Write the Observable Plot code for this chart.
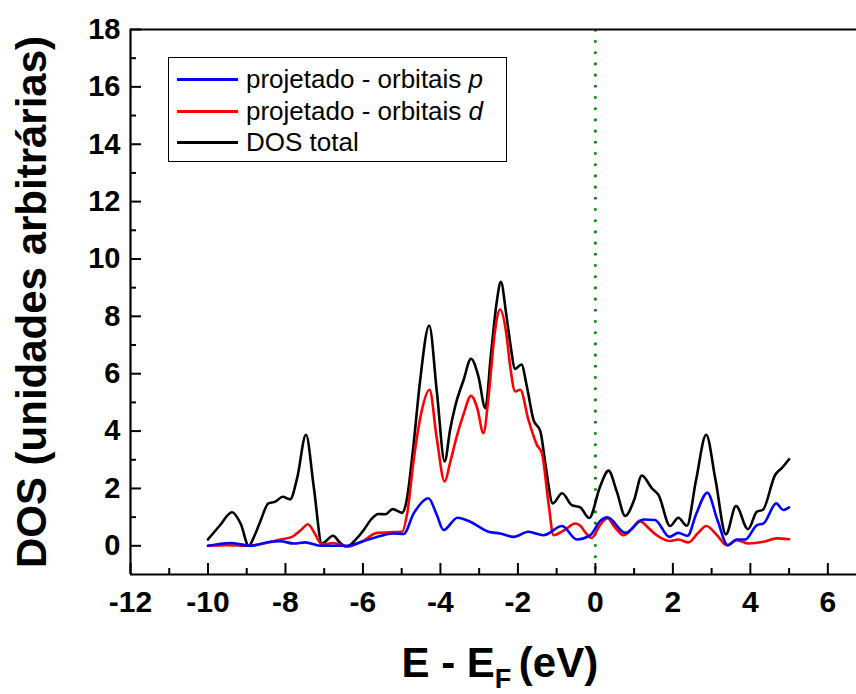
<!DOCTYPE html>
<html>
<head>
<meta charset="utf-8">
<script src="https://cdn.jsdelivr.net/npm/d3@7"></script>
<script src="https://cdn.jsdelivr.net/npm/@observablehq/plot@0.6"></script>
<style>
  html, body { margin: 0; padding: 0; background: #fff; }
  #wrap { position: relative; width: 856px; height: 694px; font-family: "Liberation Sans", Arial, sans-serif; }
  #legend { position: absolute; left: 168px; top: 57px; width: 339px; height: 105px; box-sizing: border-box;
            border: 1px solid #000; background: #fff; padding-top: 5.5px; }
  .row { height: 31.7px; display: flex; align-items: center; font-size: 26px; color: #000; white-space: nowrap; }
  .swatch { display: inline-block; width: 61px; height: 3px; margin-left: 8px; margin-right: 8px; }
</style>
</head>
<body>
<div id="wrap"></div>
<script>
// ---- data ----
const seriesNames = ["DOS total", "projetado - orbitais d", "projetado - orbitais p"];
const legendOrder = ["projetado - orbitais p", "projetado - orbitais d", "DOS total"];

const totalE = [-10, -9.7, -9.38, -9.15, -8.95, -8.8, -8.65, -8.44, -8.26, -8.07, -7.88, -7.7, -7.47, -7.27, -7.06, -6.77, -6.6, -6.41, -6.2, -5.98, -5.8, -5.6, -5.42, -5.23, -4.99, -4.87, -4.7, -4.53, -4.29, -4.09, -3.89, -3.75, -3.62, -3.4, -3.21, -3.02, -2.84, -2.7, -2.55, -2.44, -2.3, -2.2, -2.07, -1.91, -1.77, -1.6, -1.42, -1.28, -1.1, -0.86, -0.61, -0.39, -0.16, 0.12, 0.34, 0.55, 0.77, 1.0, 1.2, 1.46, 1.63, 1.93, 2.14, 2.36, 2.6, 2.86, 3.1, 3.37, 3.63, 3.94, 4.17, 4.32, 4.64, 4.81, 5.0];
const totalDOS = [0.22, 0.7, 1.17, 0.75, 0.0, 0.35, 0.85, 1.48, 1.54, 1.71, 1.62, 2.35, 3.87, 2.06, 0.08, 0.35, 0.12, -0.03, 0.2, 0.55, 0.9, 1.11, 1.1, 1.28, 1.15, 1.6, 3.45, 5.69, 7.68, 5.34, 2.94, 4.05, 4.86, 5.79, 6.52, 5.91, 4.8, 6.6, 8.47, 9.2, 8.06, 7.08, 6.17, 6.32, 5.56, 4.4, 3.99, 2.76, 1.48, 1.83, 1.42, 1.34, 0.97, 2.06, 2.62, 1.9, 1.04, 1.6, 2.45, 2.0, 1.77, 0.69, 0.98, 0.7, 2.3, 3.87, 2.3, 0.4, 1.39, 0.58, 1.19, 1.25, 2.47, 2.71, 3.02];

const dE = [-10, -9.5, -9.0, -8.5, -8.13, -7.83, -7.6, -7.42, -7.25, -7.06, -6.76, -6.41, -6.03, -5.64, -5.21, -4.99, -4.85, -4.69, -4.5, -4.28, -4.1, -3.89, -3.75, -3.58, -3.4, -3.21, -3.05, -2.89, -2.75, -2.6, -2.46, -2.3, -2.2, -2.07, -1.94, -1.73, -1.51, -1.38, -1.21, -1.08, -0.8, -0.52, -0.39, -0.25, -0.1, 0.12, 0.31, 0.5, 0.73, 0.95, 1.14, 1.35, 1.54, 1.93, 2.14, 2.4, 2.65, 2.86, 3.14, 3.39, 3.65, 3.95, 4.34, 4.68, 5.0];
const dDOS = [0.0, 0.02, 0.0, 0.1, 0.22, 0.31, 0.55, 0.75, 0.45, 0.05, 0.1, -0.03, 0.14, 0.45, 0.48, 0.49, 1.2, 3.0, 4.6, 5.44, 3.8, 2.24, 2.9, 3.81, 4.6, 5.23, 4.8, 3.93, 5.3, 7.4, 8.24, 7.4, 6.26, 5.38, 5.44, 4.4, 3.52, 3.23, 1.48, 0.37, 0.55, 0.78, 0.7, 0.45, 0.27, 0.72, 0.96, 0.65, 0.37, 0.6, 0.87, 0.65, 0.41, 0.17, 0.22, 0.12, 0.45, 0.69, 0.37, 0.02, 0.2, 0.08, 0.14, 0.26, 0.23];

const pE = [-10, -9.43, -8.9, -8.39, -8.13, -7.79, -7.49, -7.1, -6.41, -6.03, -5.64, -5.21, -4.95, -4.69, -4.31, -4.1, -3.92, -3.56, -3.23, -2.76, -2.46, -2.11, -1.73, -1.34, -0.86, -0.48, -0.13, 0.12, 0.31, 0.77, 1.24, 1.54, 1.91, 2.14, 2.38, 2.6, 2.89, 3.15, 3.42, 3.65, 3.87, 4.17, 4.34, 4.67, 4.85, 5.0];
const pDOS = [0.0, 0.1, 0.0, 0.14, 0.16, 0.08, 0.12, 0.0, 0.0, 0.14, 0.31, 0.43, 0.41, 1.13, 1.66, 1.1, 0.55, 0.98, 0.84, 0.49, 0.43, 0.31, 0.49, 0.37, 0.69, 0.22, 0.37, 0.86, 0.99, 0.45, 0.92, 0.9, 0.31, 0.45, 0.35, 1.1, 1.85, 0.9, 0.02, 0.22, 0.22, 0.72, 0.78, 1.48, 1.25, 1.34];

const xTicks = [-12, -10, -8, -6, -4, -2, 0, 2, 4, 6];
const xTickLabels = ["-12", "-10", "-8", "-6", "-4", "-2", "0", "2", "4", "6"];
const xMinor = [-11, -9, -7, -5, -3, -1, 1, 3, 5];
const yTicks = [0, 2, 4, 6, 8, 10, 12, 14, 16, 18];
const yTickLabels = ["0", "2", "4", "6", "8", "10", "12", "14", "16", "18"];
const yMinor = [1, 3, 5, 7, 9, 11, 13, 15, 17];
const fermiLevel = [0];
const yTitle = "DOS (unidades arbitrárias)";
const xTitle = "E - EF (eV)";

// ---- build table ----
const rows = [];
totalE.forEach((e, i) => rows.push({E: e, DOS: totalDOS[i], series: seriesNames[0]}));
dE.forEach((e, i) => rows.push({E: e, DOS: dDOS[i], series: seriesNames[1]}));
pE.forEach((e, i) => rows.push({E: e, DOS: pDOS[i], series: seriesNames[2]}));

const colorRange = ["#000000", "#ff0000", "#0000ff"];
const W = 856, H = 694, mL = 130, mR = 0, mT = 29, mB = 120;
const innerW = W - mL - mR, innerH = H - mT - mB;

const chart = Plot.plot({
  width: W, height: H,
  marginLeft: mL, marginRight: mR, marginTop: mT, marginBottom: mB,
  style: {fontFamily: "'Liberation Sans', Arial, sans-serif", background: "#fff", color: "#000", overflow: "visible"},
  x: {domain: [-12, 6.74]},
  y: {domain: [-1, 18]},
  color: {domain: seriesNames, range: colorRange},
  marks: [
    Plot.ruleX(fermiLevel, {x: d => d, stroke: "#008000", strokeWidth: 2.6, strokeDasharray: "2.6,8.6"}),
    Plot.line(rows, {x: "E", y: "DOS", z: "series", stroke: "series", strokeWidth: 2.6, curve: "monotone-x"}),
    // frame (left, top, bottom)
    Plot.ruleX([-12], {stroke: "#000", strokeWidth: 2.2}),
    Plot.ruleY([18], {stroke: "#000", strokeWidth: 2.2}),
    Plot.ruleY([-1], {stroke: "#000", strokeWidth: 2.2}),
    // inward ticks
    Plot.tickX(xTicks, {x: d => d, insetTop: innerH - 11, stroke: "#000", strokeWidth: 2}),
    Plot.tickX(xMinor, {x: d => d, insetTop: innerH - 6, stroke: "#000", strokeWidth: 2}),
    Plot.tickY(yTicks, {y: d => d, insetRight: innerW - 11, stroke: "#000", strokeWidth: 2}),
    Plot.tickY(yMinor, {y: d => d, insetRight: innerW - 6, stroke: "#000", strokeWidth: 2}),
    Plot.axisX(xTicks, {tickSize: 0, tickPadding: 16, fontSize: 30, fontWeight: "bold", label: null,
      tickFormat: d => xTickLabels[xTicks.indexOf(d)]}),
    Plot.axisY(yTicks, {tickSize: 0, tickPadding: 10, fontSize: 29, fontWeight: "bold", label: null,
      tickFormat: d => yTickLabels[yTicks.indexOf(d)]}),
    Plot.text([yTitle], {text: d => d, frameAnchor: "left", textAnchor: "middle", dx: -98, rotate: -90, fontSize: 42, fontWeight: "bold", lineAnchor: "middle"}),
    Plot.text([xTitle], {text: d => d, frameAnchor: "bottom", textAnchor: "start", dx: -92, dy: 102.4, fontSize: 42, fontWeight: "bold", lineAnchor: "bottom", className: "xtitle"})
  ]
});

document.getElementById("wrap").appendChild(chart);

// subscript for E_F
d3.select(chart).selectAll(".xtitle text").each(function () {
  const t = d3.select(this);
  t.text(null);
  t.append("tspan").text("E - E");
  t.append("tspan").attr("font-size", 27).attr("dy", 11).text("F ");
  t.append("tspan").attr("font-size", 42).attr("dy", -11).text("(eV)");
});

// legend
const legend = d3.select("#wrap").append("div").attr("id", "legend");
legendOrder.forEach(name => {
  const row = legend.append("div").attr("class", "row");
  row.append("span").attr("class", "swatch").style("background", colorRange[seriesNames.indexOf(name)]);
  const label = row.append("span");
  if (name.startsWith("projetado")) {
    const parts = name.split(" ");
    const last = parts.pop();
    label.append("span").text(parts.join(" ") + " ");
    label.append("i").text(last);
  } else {
    label.text(name);
  }
});
</script>
</body>
</html>
